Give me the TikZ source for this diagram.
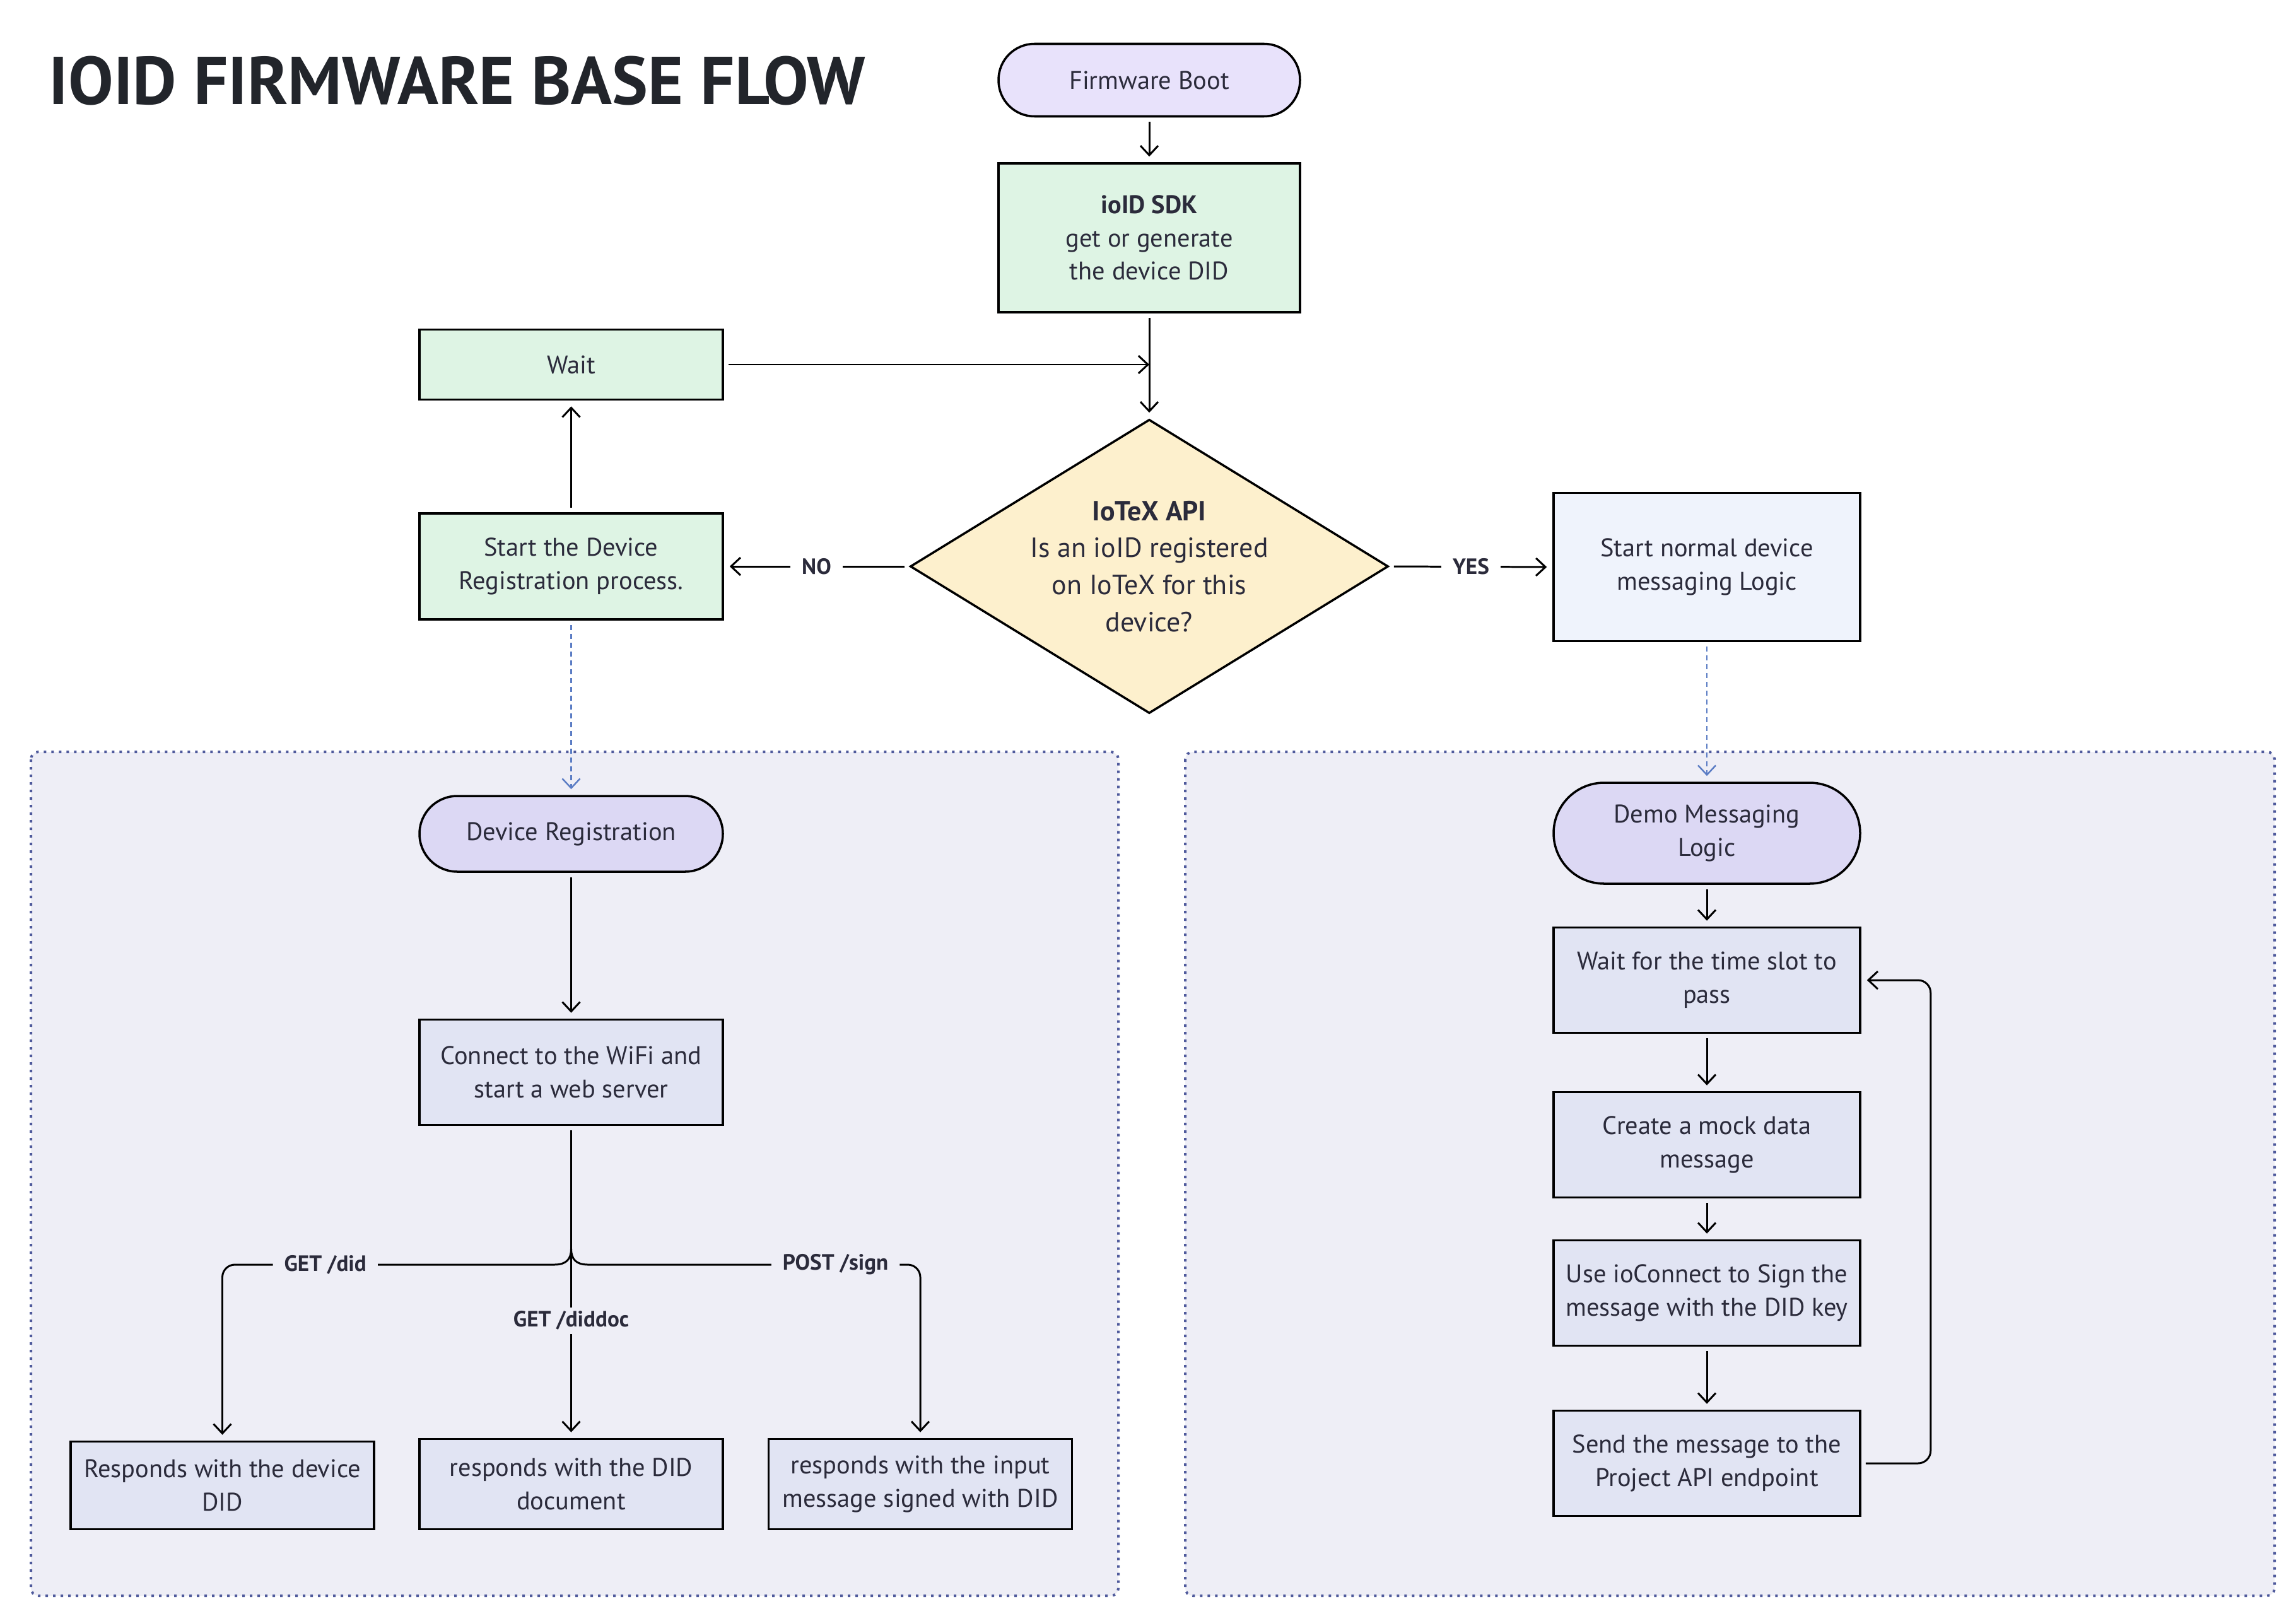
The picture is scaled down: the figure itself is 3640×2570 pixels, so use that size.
\documentclass[tikz,border=0pt]{standalone}
\usepackage{fontspec}
\setmainfont{PT Sans}
\usetikzlibrary{arrows.meta,shapes.geometric}
\definecolor{ink}{HTML}{2B2B3B}
\definecolor{bootfill}{HTML}{E8E2FB}
\definecolor{pillfill}{HTML}{DCD8F4}
\definecolor{greenfill}{HTML}{DEF4E4}
\definecolor{yelfill}{HTML}{FDF0CD}
\definecolor{bluefill}{HTML}{EFF3FC}
\definecolor{grayfill}{HTML}{E1E4F3}
\definecolor{contfill}{HTML}{EEEEF6}
\definecolor{contline}{HTML}{4F5A9C}
\definecolor{dashblue}{HTML}{5A7CC4}
\definecolor{titlec}{HTML}{22252B}
\begin{document}
\begin{tikzpicture}[x=0.1mm,y=-0.1mm,
  font=\fontsize{11.5}{15}\selectfont,
  box/.style={draw=black, line width=1pt, text=ink, align=center, minimum width=48.1mm, inner sep=0pt},
  greenbox/.style={box, fill=greenfill},
  graybox/.style={box, fill=grayfill},
  arr/.style={-{Straight Barb[length=1.5mm,width=2.8mm]}, line width=0.85pt, shorten <=0.7mm, shorten >=0.9mm},
  dasharr/.style={arr, draw=dashblue, dash pattern=on 0.8mm off 0.6mm, line width=0.7pt},
  lbl/.style={font=\fontsize{10}{12}\selectfont\bfseries, text=ink, fill=white, inner xsep=1.8mm, inner ysep=0.6mm},
  lblc/.style={lbl, fill=contfill},
  container/.style={fill=contfill, draw=contline, line width=0.4mm, dash pattern=on 0.4mm off 0.8mm, rounded corners=1.2mm}
]
\fill[white] (0,0) rectangle (3640,2570);
\useasboundingbox (0,0) rectangle (3640,2570);

% containers
\path[container] (49,1192) rectangle (1773,2530);
\path[container] (1879,1192) rectangle (3606,2530);

% title
\node[anchor=base west, inner sep=0pt, font=\fontsize{30.5}{36}\selectfont\bfseries, text=titlec] (title) at (77,166) {IOID FIRMWARE BASE FLOW};

% top flow
\node[box, fill=bootfill, minimum width=47.8mm, minimum height=11.5mm, rounded corners=5.7mm] (boot) at (1822,127) {Firmware Boot};
\node[greenbox, minimum width=47.8mm, minimum height=23.6mm] (sdk) at (1822,377) {\textbf{ioID SDK}\\get or generate\\the device DID};
\node[greenbox, minimum height=11.1mm] (wait) at (905.5,578) {Wait};
\node[greenbox, minimum height=16.8mm] (sreg) at (905.5,898) {Start the Device\\Registration process.};
\node[draw=black, line width=1pt, fill=yelfill, diamond, aspect=1.63, inner sep=0pt, minimum width=75.8mm, minimum height=46.6mm, align=center, text=ink, font=\fontsize{12.5}{16.7}\selectfont] (dia) at (1822,898) {\textbf{IoTeX API}\\Is an ioID registered\\on IoTeX for this\\device?};
\node[box, fill=bluefill, minimum width=48.6mm, minimum height=23.5mm] (snorm) at (2706,899) {Start normal device\\messaging Logic};

% left container
\node[box, fill=pillfill, minimum height=12mm, rounded corners=6mm] (devreg) at (905.5,1322) {Device Registration};
\node[graybox, minimum height=16.7mm] (conn) at (905.5,1700) {Connect to the WiFi and\\start a web server};
\node[graybox, minimum height=13.9mm] (rdid) at (352.5,2355) {Responds with the device\\DID};
\node[graybox, minimum height=14.3mm] (rdoc) at (905.5,2353) {responds with the DID\\document};
\node[graybox, minimum height=14.3mm] (rin) at (1459,2353) {responds with the input\\message signed with DID};

% right container
\node[box, fill=pillfill, minimum width=48.6mm, minimum height=16mm, rounded corners=8mm] (demo) at (2706,1321) {Demo Messaging\\Logic};
\node[graybox, minimum width=48.6mm, minimum height=16.7mm] (wslot) at (2706,1554) {Wait for the time slot to\\pass};
\node[graybox, minimum width=48.6mm, minimum height=16.7mm] (mock) at (2706,1815) {Create a mock data\\message};
\node[graybox, minimum width=48.6mm, minimum height=16.7mm] (useio) at (2706,2050) {Use ioConnect to Sign the\\message with the DID key};
\node[graybox, minimum width=48.6mm, minimum height=16.7mm] (send) at (2706,2320) {Send the message to the\\Project API endpoint};

% connectors top
\draw[arr] (boot) -- (sdk);
\draw[arr] (sdk) -- (dia.north);
\draw[arr, shorten >=0pt] (wait.east) -- (wait.east -| sdk.south);
\draw[arr] (dia.west) -- node[lbl]{NO} (sreg.east);
\draw[arr] (dia.east) -- node[lbl]{YES} (snorm.west);
\draw[arr] (sreg) -- (wait);
\draw[dasharr] (sreg) -- (devreg);
\draw[dasharr] (snorm) -- (demo);

% left container connectors
\draw[arr] (devreg) -- (conn);
\draw[arr] (conn.south) -- node[lblc, pos=0.624]{GET /diddoc} (rdoc.north);
\coordinate (j) at (905.5,1980);
\coordinate (hy) at (0,2005);
\draw[arr, shorten <=0pt] (j) .. controls (905.5,1996) and (898,2005) .. (879,2005) [rounded corners=2mm] -- node[lblc, pos=0.69]{GET /did} (rdid.north |- hy) -- (rdid.north);
\draw[arr, shorten <=0pt] (j) .. controls (905.5,1996) and (913,2005) .. (932,2005) [rounded corners=2mm] -- node[lblc, pos=0.745]{POST /sign} (rin.north |- hy) -- (rin.north);

% right container connectors
\draw[arr] (demo) -- (wslot);
\draw[arr] (wslot) -- (mock);
\draw[arr] (mock) -- (useio);
\draw[arr] (useio) -- (send);
\draw[arr, rounded corners=2mm] (send.east) -- ([xshift=11mm]send.east) |- (wslot.east);
\end{tikzpicture}
\end{document}
